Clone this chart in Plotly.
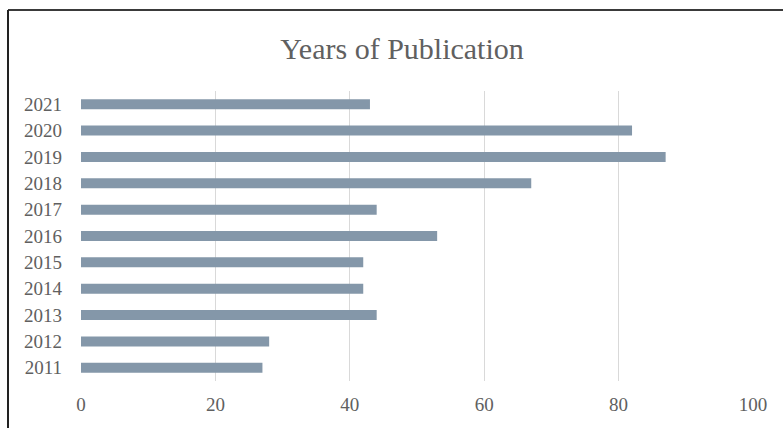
import plotly.graph_objects as go

years = ["2011", "2012", "2013", "2014", "2015", "2016", "2017", "2018", "2019", "2020", "2021"]
counts = [27, 28, 44, 42, 42, 53, 44, 67, 87, 82, 43]
x_ticks = [0, 20, 40, 60, 80, 100]

W, H = 783, 428
L, R, T, B = 81, 30, 91, 47
pw, ph = W - L - R, H - T - B

fig = go.Figure(go.Bar(
    y=years, x=counts, orientation="h",
    marker=dict(color="#8497a9", line=dict(width=0)),
    width=0.38,
))

font = "Liberation Serif, Times New Roman, serif"
fig.update_layout(
    width=W, height=H,
    margin=dict(l=L, r=R, t=T, b=B),
    paper_bgcolor="white", plot_bgcolor="white",
    showlegend=False,
    title=dict(text="Years of Publication", x=(402 - L) / pw, xref="paper",
               xanchor="center", y=1 - 48 / H, yanchor="middle",
               font=dict(family=font, size=30, color="#606060")),
    font=dict(family=font, color="#606060"),
    xaxis=dict(range=[0, 100], tickvals=x_ticks, showgrid=True, gridcolor="#d9d9d9",
               gridwidth=1, zeroline=False, showline=False, ticks="",
               tickfont=dict(size=19, color="#606060"), ticklabelstandoff=10,
               fixedrange=True),
    yaxis=dict(type="category", showgrid=False, zeroline=False, showline=False, ticks="",
               tickfont=dict(size=19, color="#606060"), ticklabelstandoff=18,
               range=[-0.5, 10.5]),
)

# outer frame lines (left and top edges of the chart image)
fig.add_shape(type="line", xref="paper", yref="paper",
              x0=(8 - L) / pw, x1=(W + 5 - L) / pw,
              y0=(H - B - 10) / ph, y1=(H - B - 10) / ph,
              line=dict(color="#3a3a3a", width=2))
fig.add_shape(type="line", xref="paper", yref="paper",
              x0=(8 - L) / pw, x1=(8 - L) / pw,
              y0=(H - B - 10) / ph, y1=(H - B - H - 5) / ph,
              line=dict(color="#222222", width=2))

fig.write_html("out.html")
